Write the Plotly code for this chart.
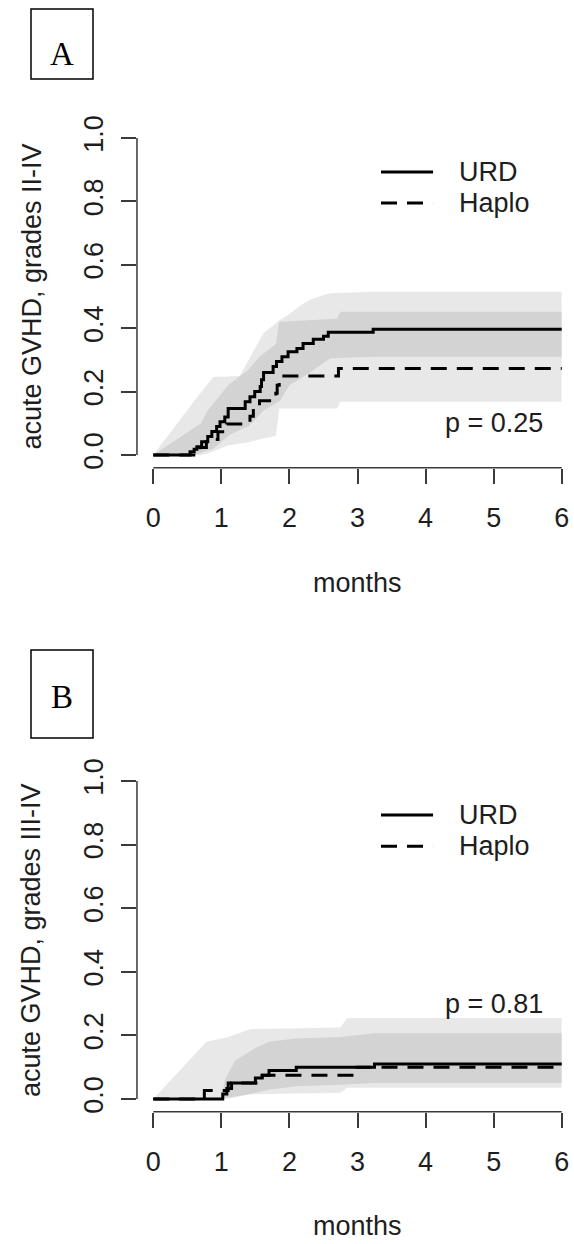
import plotly.graph_objects as go

W, H = 574, 1244

# ---------------- data ----------------
months_ticks = [0, 1, 2, 3, 4, 5, 6]
y_ticks = [0.0, 0.2, 0.4, 0.6, 0.8, 1.0]
y_ticktext = ["0.0", "0.2", "0.4", "0.6", "0.8", "1.0"]
series_names = ["URD", "Haplo"]

# Panel A: acute GVHD grades II-IV
a_urd_t = [0, 0.54, 0.60, 0.64, 0.71, 0.80, 0.86, 0.93, 0.98, 1.05, 1.10, 1.35, 1.42, 1.49,
           1.57, 1.59, 1.62, 1.76, 1.81, 1.89, 1.98, 2.11, 2.20, 2.35, 2.50, 2.57, 3.23, 6.0]
a_urd_est = [0, 0.010, 0.018, 0.026, 0.042, 0.058, 0.074, 0.090, 0.105, 0.120, 0.147, 0.168,
             0.184, 0.200, 0.216, 0.237, 0.260, 0.279, 0.295, 0.310, 0.326, 0.336, 0.352,
             0.365, 0.375, 0.387, 0.397, 0.397]
a_haplo_t = [0, 0.68, 0.78, 0.95, 1.08, 1.42, 1.47, 1.56, 1.80, 1.82, 1.85, 2.72, 6.0]
a_haplo_est = [0, 0.024, 0.049, 0.073, 0.098, 0.122, 0.146, 0.171, 0.195, 0.220, 0.249,
               0.273, 0.273]

a_urd_band_t = [0, 0.60, 0.88, 1.10, 1.27, 1.40, 1.62, 1.86, 2.00, 2.15, 2.30, 2.50, 2.60, 3.20, 6.0]
a_urd_upper = [0, 0.17, 0.246, 0.248, 0.25, 0.30, 0.385, 0.426, 0.445, 0.47, 0.49, 0.505, 0.51, 0.515, 0.515]
a_urd_lower = [0, 0.0, 0.02, 0.06, 0.08, 0.09, 0.14, 0.17, 0.22, 0.24, 0.26, 0.29, 0.305, 0.31, 0.31]

a_haplo_band_t = [0, 0.70, 0.80, 1.10, 1.40, 1.56, 1.80, 1.85, 2.70, 2.75, 6.0]
a_haplo_upper = [0, 0.10, 0.14, 0.22, 0.27, 0.31, 0.35, 0.42, 0.43, 0.452, 0.452]
a_haplo_lower = [0, 0.0, 0.005, 0.03, 0.04, 0.05, 0.06, 0.147, 0.147, 0.168, 0.168]

# Panel B: acute GVHD grades III-IV
b_urd_t = [0, 1.02, 1.08, 1.15, 1.50, 1.60, 1.70, 2.10, 3.25, 6.0]
b_urd_est = [0, 0.016, 0.033, 0.050, 0.066, 0.075, 0.090, 0.100, 0.110, 0.110]
b_haplo_t = [0, 0.75, 1.10, 1.60, 2.95, 6.0]
b_haplo_est = [0, 0.027, 0.050, 0.075, 0.100, 0.100]

b_urd_band_t = [0, 1.00, 1.05, 1.20, 1.50, 1.70, 2.10, 2.75, 3.25, 6.0]
b_urd_upper = [0, 0.0, 0.06, 0.12, 0.16, 0.18, 0.19, 0.195, 0.207, 0.207]
b_urd_lower = [0, 0.0, 0.0, 0.005, 0.02, 0.03, 0.04, 0.045, 0.05, 0.05]

b_haplo_band_t = [0, 0.78, 1.10, 1.43, 2.75, 2.85, 6.0]
b_haplo_upper = [0, 0.18, 0.195, 0.22, 0.225, 0.255, 0.255]
b_haplo_lower = [0, 0.0, 0.005, 0.015, 0.02, 0.035, 0.035]

panels = [
    dict(tag="A", ylabel="acute GVHD, grades II-IV", p="p = 0.25", p_pos=(5, 0.1),
         urd=(a_urd_t, a_urd_est), haplo=(a_haplo_t, a_haplo_est),
         urd_band=(a_urd_band_t, a_urd_upper, a_urd_lower),
         haplo_band=(a_haplo_band_t, a_haplo_upper, a_haplo_lower)),
    dict(tag="B", ylabel="acute GVHD, grades III-IV", p="p = 0.81", p_pos=(5, 0.3),
         urd=(b_urd_t, b_urd_est), haplo=(b_haplo_t, b_haplo_est),
         urd_band=(b_urd_band_t, b_urd_upper, b_urd_lower),
         haplo_band=(b_haplo_band_t, b_haplo_upper, b_haplo_lower)),
]

# ---------------- layout geometry (pixels) ----------------
PX_PER_MONTH = 68.07
X0_PX = 153.3                      # pixel of month 0
panel_y0_px = [455.0, 1099.0]      # pixel of y = 0
panel_ppu = [317.0, 318.0]         # pixels per y unit
panel_offset = [0, 643]            # vertical shift of panel B decorations
tag_box_px = [(9, 79, 54), (650, 738, 697)]   # box top, box bottom, letter centre

FONT = "Liberation Sans, Arial, Helvetica, sans-serif"
TXT = "#1e1e1e"
AX = "#3a3a3a"
FS = 27
band_fill = "rgba(0,0,0,0.09)"

x_left_px = X0_PX - 0.24 * PX_PER_MONTH
x_range = [-0.24, (W - X0_PX) / PX_PER_MONTH]
x_domain = [x_left_px / W, 1.0]

fig = go.Figure()
layout_axes = {}
shapes = []
annotations = []

for i, pnl in enumerate(panels):
    n = "" if i == 0 else str(i + 1)
    xa, ya = "x" + n, "y" + n
    y0, ppu, off = panel_y0_px[i], panel_ppu[i], panel_offset[i]
    bot_px = y0 + 0.04 * ppu
    top_px = y0 - 1.04 * ppu
    y_domain = [(H - bot_px) / H, (H - top_px) / H]

    for (bt, up, lo) in (pnl["urd_band"], pnl["haplo_band"]):
        fig.add_trace(go.Scatter(x=list(bt) + list(bt)[::-1], y=list(up) + list(lo)[::-1],
                                 fill="toself", fillcolor=band_fill, mode="none",
                                 hoverinfo="skip", showlegend=False, xaxis=xa, yaxis=ya))
    ut, ue = pnl["urd"]
    fig.add_trace(go.Scatter(x=ut, y=ue, mode="lines", line=dict(color="black", width=3, shape="hv"),
                             name=series_names[0], showlegend=False, xaxis=xa, yaxis=ya))
    ht, he = pnl["haplo"]
    fig.add_trace(go.Scatter(x=ht, y=he, mode="lines",
                             line=dict(color="black", width=3, shape="hv", dash="16px,10px"),
                             name=series_names[1], showlegend=False, xaxis=xa, yaxis=ya))

    layout_axes["xaxis" + n] = dict(
        domain=x_domain, range=x_range, tickvals=months_ticks, ticks="outside", ticklen=15,
        tickwidth=1.5, tickcolor=AX, showline=False, showgrid=False, zeroline=False,
        tickfont=dict(family=FONT, size=FS, color=TXT), anchor=ya, automargin=False,
        ticklabelstandoff=11, fixedrange=True)
    layout_axes["yaxis" + n] = dict(
        domain=y_domain, range=[-0.04, 1.04], tickvals=y_ticks, ticktext=y_ticktext,
        ticks="outside", ticklen=15, tickwidth=1.5, tickcolor=AX, showline=False,
        showgrid=False, zeroline=False, tickangle=-90,
        tickfont=dict(family=FONT, size=FS, color=TXT), anchor=xa, automargin=False,
        ticklabelstandoff=7, fixedrange=True)

    # axis lines spanning first to last tick (R style)
    shapes.append(dict(type="line", xref=xa, yref=ya + " domain", x0=min(months_ticks),
                       x1=max(months_ticks), y0=0, y1=0, line=dict(color=AX, width=1.5)))
    shapes.append(dict(type="line", xref=xa + " domain", yref=ya, x0=0, x1=0,
                       y0=min(y_ticks), y1=max(y_ticks), line=dict(color=AX, width=1.5)))

    # legend
    leg_x0, leg_x1, leg_tx = 3.345, 4.11, 4.46
    for k, (lab, yy, dash) in enumerate([(series_names[0], 0.893, "solid"),
                                          (series_names[1], 0.795, "16px,10px")]):
        shapes.append(dict(type="line", xref=xa, yref=ya, x0=leg_x0, x1=leg_x1, y0=yy, y1=yy,
                           line=dict(color="black", width=3, dash=dash)))
        annotations.append(dict(x=leg_tx, y=yy, xref=xa, yref=ya, text=lab, showarrow=False,
                                xanchor="left", yanchor="middle",
                                font=dict(family=FONT, size=FS, color=TXT)))

    # p-value
    annotations.append(dict(x=pnl["p_pos"][0], y=pnl["p_pos"][1], xref=xa, yref=ya,
                            text=pnl["p"], showarrow=False, xanchor="center", yanchor="middle",
                            font=dict(family=FONT, size=FS, color=TXT)))

    # axis titles
    annotations.append(dict(x=31 / W, y=1 - ((bot_px + top_px) / 2) / H, xref="paper",
                            yref="paper", text=pnl["ylabel"], textangle=-90, showarrow=False,
                            xanchor="center", yanchor="middle",
                            font=dict(family=FONT, size=FS, color=TXT)))
    annotations.append(dict(x=((x_left_px + X0_PX + 6.24 * PX_PER_MONTH) / 2) / W,
                            y=1 - (583 + off) / H, xref="paper", yref="paper", text="months",
                            showarrow=False, xanchor="center", yanchor="middle",
                            font=dict(family=FONT, size=FS, color=TXT)))

    # panel tag box
    bt_px, bb_px, lc_px = tag_box_px[i]
    shapes.append(dict(type="rect", xref="paper", yref="paper", x0=31 / W, x1=93 / W,
                       y0=1 - bb_px / H, y1=1 - bt_px / H,
                       line=dict(color="black", width=1.5), fillcolor="rgba(0,0,0,0)"))
    annotations.append(dict(x=62 / W, y=1 - lc_px / H, xref="paper", yref="paper",
                            text=pnl["tag"], showarrow=False, xanchor="center", yanchor="middle",
                            font=dict(family="Liberation Serif, Times New Roman, serif",
                                      size=33, color="black")))

fig.update_layout(width=W, height=H, margin=dict(l=0, r=0, t=0, b=0, pad=0),
                  paper_bgcolor="white", plot_bgcolor="white", showlegend=False,
                  shapes=shapes, annotations=annotations, **layout_axes)

fig.write_html("out.html")
